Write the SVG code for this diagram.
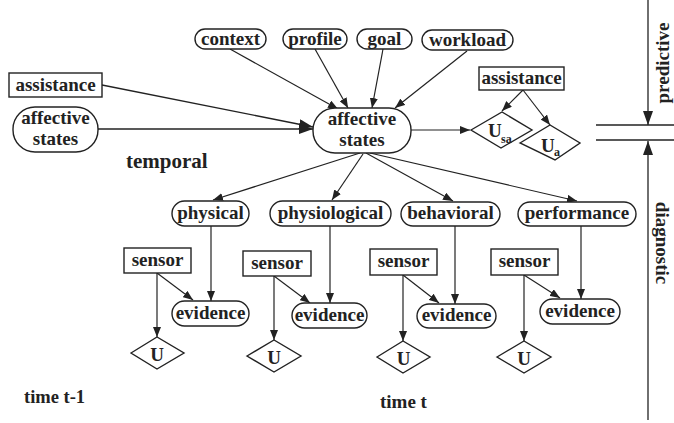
<svg xmlns="http://www.w3.org/2000/svg" width="674" height="423" viewBox="0 0 674 423">
<style>
text{font-family:"Liberation Serif","Times New Roman",serif;font-weight:bold;fill:#222;}
.lbl{font-size:19px;text-anchor:middle;}
.nd{fill:#fff;stroke:#222;stroke-width:1.4;}
.cn{stroke:#222;stroke-width:1.2;fill:none;marker-end:url(#ah);}
.cl{stroke:#222;stroke-width:1.3;fill:none;marker-end:url(#ahL);}
.pl{stroke:#222;stroke-width:1.3;fill:none;}
</style>
<defs>
<marker id="ah" viewBox="0 0 10 8" refX="10" refY="4" markerWidth="10" markerHeight="8" orient="auto" markerUnits="userSpaceOnUse"><path d="M0,0 L10,4 L0,8 z" fill="#222"/></marker>
<marker id="ahL" viewBox="0 0 14 10" refX="14" refY="5" markerWidth="14" markerHeight="10" orient="auto" markerUnits="userSpaceOnUse"><path d="M0,0 L14,5 L0,10 z" fill="#222"/></marker>
</defs>
<rect width="674" height="423" fill="#fff"/>

<g id="connectors">
<line class="cn" x1="230" y1="49" x2="338" y2="109"/>
<line class="cn" x1="315" y1="49" x2="348" y2="108"/>
<line class="cn" x1="383" y1="49" x2="372" y2="108"/>
<line class="cn" x1="467" y1="51" x2="395" y2="108"/>
<line class="cl" x1="102" y1="85" x2="313" y2="127"/>
<line class="cl" x1="98" y1="129" x2="313" y2="129"/>
<line class="cn" x1="411" y1="130" x2="470" y2="130"/>
<line class="cn" x1="523" y1="90" x2="502" y2="111"/>
<line class="cn" x1="523" y1="90" x2="550" y2="125"/>
<line class="cn" x1="360" y1="153" x2="213" y2="200"/>
<line class="cn" x1="363" y1="154" x2="332" y2="200"/>
<line class="cn" x1="366" y1="153" x2="453" y2="201"/>
<line class="cn" x1="370" y1="153" x2="577" y2="201"/>
<line class="cn" x1="211" y1="226" x2="211" y2="301"/>
<line class="cn" x1="157" y1="273" x2="157" y2="337"/>
<line class="cn" x1="157" y1="273" x2="193" y2="300"/>
<line class="cn" x1="330" y1="226" x2="330" y2="303"/>
<line class="cn" x1="274" y1="276" x2="274" y2="340"/>
<line class="cn" x1="274" y1="276" x2="310" y2="303"/>
<line class="cn" x1="455" y1="226" x2="455" y2="304"/>
<line class="cn" x1="403" y1="275" x2="403" y2="341"/>
<line class="cn" x1="403" y1="275" x2="439" y2="303"/>
<line class="cn" x1="581" y1="226" x2="581" y2="299"/>
<line class="cn" x1="524" y1="275" x2="524" y2="341"/>
<line class="cn" x1="524" y1="275" x2="560" y2="298"/>
<line class="cl" x1="648" y1="0" x2="648" y2="125"/>
<line class="cl" x1="648" y1="420" x2="648" y2="141"/>
<line class="pl" x1="596" y1="125" x2="674" y2="125"/>
<line class="pl" x1="596" y1="140" x2="674" y2="140"/>
</g>

<g id="context"><rect class="nd" x="195" y="29" width="71" height="20" rx="10"/><text class="lbl" x="230.5" y="45">context</text></g>
<g id="profile"><rect class="nd" x="283" y="29" width="64" height="20" rx="10"/><text class="lbl" x="315" y="45">profile</text></g>
<g id="goal"><rect class="nd" x="357" y="29" width="55" height="20" rx="10"/><text class="lbl" x="384.5" y="45">goal</text></g>
<g id="workload"><rect class="nd" x="422" y="30" width="91" height="20" rx="10"/><text class="lbl" x="467.5" y="46">workload</text></g>

<g id="assistance-prev"><rect class="nd" x="9" y="73" width="93" height="24"/><text class="lbl" x="55.5" y="91">assistance</text></g>
<g id="affective-prev"><rect class="nd" x="13" y="107" width="85" height="45" rx="22"/><text class="lbl" x="55.5" y="124">affective</text><text class="lbl" x="55.5" y="145">states</text></g>
<g id="affective"><rect class="nd" x="313" y="108" width="98" height="45" rx="22"/><text class="lbl" x="362" y="125">affective</text><text class="lbl" x="362" y="146">states</text></g>

<g id="assistance"><rect class="nd" x="479" y="67" width="85" height="23"/><text class="lbl" x="521.5" y="84">assistance</text></g>
<g id="Usa"><polygon class="nd" points="471,130 502,112 532,130 501,148"/><text x="488" y="137" style="font-size:19px">U</text><text x="501" y="143" style="font-size:12px">sa</text></g>
<g id="Ua"><polygon class="nd" points="520,143 550,125 580,143 555,160"/><text x="541" y="152" style="font-size:19px">U</text><text x="554" y="156" style="font-size:12px">a</text></g>

<g id="physical"><rect class="nd" x="172" y="201" width="77" height="25" rx="12.5"/><text class="lbl" x="210.5" y="219">physical</text></g>
<g id="physiological"><rect class="nd" x="270" y="201" width="121" height="25" rx="12.5"/><text class="lbl" x="330.5" y="219">physiological</text></g>
<g id="behavioral"><rect class="nd" x="401" y="202" width="99" height="24" rx="12"/><text class="lbl" x="450.5" y="219">behavioral</text></g>
<g id="performance"><rect class="nd" x="518" y="202" width="118" height="24" rx="12"/><text class="lbl" x="577" y="219">performance</text></g>

<g id="sensor1"><rect class="nd" x="124" y="248" width="67" height="25"/><text class="lbl" x="157.5" y="266">sensor</text></g>
<g id="evidence1"><rect class="nd" x="172" y="301" width="77" height="25" rx="12.5"/><text class="lbl" x="210.5" y="319">evidence</text></g>
<g id="U1"><polygon class="nd" points="131,353 157,337 184,353 157,369"/><text class="lbl" x="157" y="361">U</text></g>

<g id="sensor2"><rect class="nd" x="243" y="251" width="68" height="25"/><text class="lbl" x="277" y="269">sensor</text></g>
<g id="evidence2"><rect class="nd" x="292" y="303" width="75" height="25" rx="12.5"/><text class="lbl" x="329.5" y="321">evidence</text></g>
<g id="U2"><polygon class="nd" points="247,356 274,340 301,356 274,372"/><text class="lbl" x="274" y="364">U</text></g>

<g id="sensor3"><rect class="nd" x="370" y="249" width="67" height="26"/><text class="lbl" x="403.5" y="267">sensor</text></g>
<g id="evidence3"><rect class="nd" x="417" y="304" width="79" height="24" rx="12"/><text class="lbl" x="456.5" y="321">evidence</text></g>
<g id="U3"><polygon class="nd" points="377,357 403,341 430,357 403,373"/><text class="lbl" x="403.5" y="365">U</text></g>

<g id="sensor4"><rect class="nd" x="491" y="249" width="67" height="26"/><text class="lbl" x="524.5" y="267">sensor</text></g>
<g id="evidence4"><rect class="nd" x="540" y="299" width="80" height="25" rx="12.5"/><text class="lbl" x="580" y="317">evidence</text></g>
<g id="U4"><polygon class="nd" points="497,357 524,341 551,357 524,373"/><text class="lbl" x="524" y="365">U</text></g>

<text x="126" y="168" style="font-size:21px">temporal</text>
<text x="24" y="403" style="font-size:18.5px">time t-1</text>
<text x="380" y="408" style="font-size:19px">time t</text>
<text transform="translate(669,63) rotate(-90)" style="font-size:19px;text-anchor:middle">predictive</text>
<text transform="translate(656,243) rotate(90)" style="font-size:19px;text-anchor:middle">diagnostic</text>
</svg>
